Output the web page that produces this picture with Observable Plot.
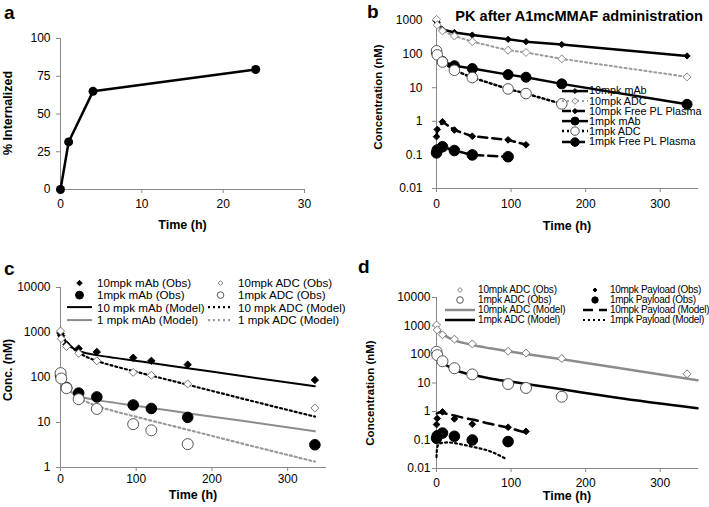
<!DOCTYPE html>
<html><head><meta charset="utf-8">
<script src="https://cdn.jsdelivr.net/npm/d3@7"></script>
<script src="https://cdn.jsdelivr.net/npm/@observablehq/plot@0.6"></script>
<style>
body{margin:0;background:#fff;font-family:"Liberation Sans",Arial,sans-serif;}
#root{position:relative;width:709px;height:507px;overflow:hidden;background:#fff}
.panel{position:absolute}
.letter{position:absolute;font-weight:bold;font-size:19px;line-height:1;color:#000}
.vt{position:absolute;font-weight:bold;white-space:nowrap;line-height:1;color:#000;transform:translate(-50%,-50%) rotate(-90deg)}
.lg{position:absolute;display:flex;align-items:center;white-space:nowrap;line-height:1;color:#000}
.lg svg{display:block;flex:none}
g[aria-label$="axis tick"]{stroke:#888}
</style></head><body><div id="root"></div>
<script>
// ---------------- DATA ----------------
// panel a
const aTime = [0, 1, 4, 24];
const aInternalized = [0, 31.5, 65, 79.5];
const aXTicks = [0, 10, 20, 30];
const aYTicks = [0, 25, 50, 75, 100];

// observed PK (nM)
const mab10Time = [0.083, 1, 8, 24, 48, 96, 120, 168, 336];
const mab10Conc = [950, 850, 540, 440, 370, 275, 235, 193, 88];
const adc10Time = [0.083, 1, 8, 24, 48, 96, 120, 168, 336];
const adc10Conc = [1080, 730, 490, 345, 235, 130, 112, 72, 21];
const pl10Time = [0.083, 1, 8, 24, 48, 96, 120];
const pl10Conc = [0.35, 0.57, 0.97, 0.55, 0.36, 0.28, 0.2];
const mab1Time = [0.083, 8, 24, 48, 96, 120, 168, 336];
const mab1Conc = [110, 60, 45, 37, 24.5, 20.5, 13, 3.2];
const adc1Time = [0.083, 1, 8, 24, 48, 96, 120, 168];
const adc1Conc = [125, 95, 58, 33, 20, 9.2, 6.7, 3.3];
const pl1Time = [0.083, 1, 8, 24, 48, 96];
const pl1Conc = [0.115, 0.14, 0.175, 0.135, 0.1, 0.088];

// panel c model curves
const cModelTime = [0, 2, 4, 8, 12, 16, 24, 36, 48, 72, 96, 120, 168, 240, 336];
const cMab10Model = [950, 831, 737, 600, 512, 454, 388, 341, 314, 273, 239, 210, 161, 108, 64];
const cMab1Model = [95, 83, 74, 60, 51, 45, 39, 34, 31.4, 27.3, 23.9, 21, 16.1, 10.9, 6.4];
const cAdc10Model = [902, 813, 737, 615, 523, 453, 359, 279, 233, 177, 139, 110, 69, 34, 13.5];
const cAdc1Model = [90, 81, 74, 61.5, 52, 45, 36, 28, 23.3, 17.7, 13.9, 11, 6.9, 3.4, 1.35];

// panel d model curves
const dModelTime = [0, 2, 4, 8, 12, 16, 24, 36, 48, 72, 96, 120, 168, 240, 350];
const dAdc10Model = [820, 740, 670, 540, 450, 390, 315, 255, 215, 165, 130, 105, 68, 35, 12.5];
const dAdc1Model = [80, 72, 65, 53, 44, 38, 29, 23, 19.5, 14.5, 11.5, 9.3, 6, 3.1, 1.3];
const dPl10ModelTime = [0.5, 4, 8, 16, 24, 36, 48, 72, 96, 120];
const dPl10Model = [0.85, 0.92, 0.9, 0.8, 0.72, 0.6, 0.52, 0.37, 0.27, 0.18];
const dPl1ModelTime = [0, 0.5, 1, 2, 4, 8, 16, 24, 36, 48, 72, 93];
const dPl1Model = [0.025, 0.045, 0.055, 0.065, 0.074, 0.08, 0.082, 0.078, 0.068, 0.058, 0.04, 0.022];

const pkXTicks = [0, 100, 200, 300];
const bYTicks = [0.01, 0.1, 1, 10, 100, 1000];
const cYTicks = [1, 10, 100, 1000, 10000];
const dYTicks = [0.01, 0.1, 1, 10, 100, 1000, 10000];

const bTitle = "PK after A1mcMMAF administration";
const namesB = ["10mpk mAb", "10mpk ADC", "10mpk Free PL Plasma", "1mpk mAb", "1mpk ADC", "1mpk Free PL Plasma"];
const namesCLeft = ["10mpk mAb (Obs)", "1mpk mAb (Obs)", "10 mpk mAb (Model)", "1 mpk mAb (Model)"];
const namesCRight = ["10mpk ADC (Obs)", "1mpk ADC (Obs)", "10 mpk ADC (Model)", "1 mpk ADC (Model)"];
const namesDLeft = ["10mpk ADC (Obs)", "1mpk ADC (Obs)", "10mpk ADC (Model)", "1mpk ADC (Model)"];
const namesDRight = ["10mpk Payload (Obs)", "1mpk Payload (Obs)", "10mpk Payload (Model)", "1mpk Payload (Model)"];

// ---------------- HELPERS ----------------
const rows = (t, v) => t.map((d, i) => ({t: d, v: v[i]}));
const FONT = "Liberation Sans, Arial, sans-serif";
const root = document.getElementById("root");
const symMap = {circle: d3.symbolCircle, diamond2: d3.symbolDiamond2};

function seriesMarks(data, st) {
  const m = [];
  if (st.line) m.push(Plot.line(data, {x: "t", y: "v", stroke: st.line, strokeWidth: st.lw, strokeDasharray: st.dash, curve: st.curve || "linear"}));
  if (st.symbol) m.push(Plot.dot(data, {x: "t", y: "v", symbol: st.symbol, r: st.r, fill: st.fill, stroke: st.stroke, strokeWidth: st.sw || 1}));
  return m;
}

function place(el, left, top) {
  el.classList.add("panel");
  el.style.left = left + "px"; el.style.top = top + "px";
  root.appendChild(el);
}

function letter(txt, left, top) {
  const d = document.createElement("div");
  d.className = "letter"; d.textContent = txt;
  d.style.left = left + "px"; d.style.top = top + "px";
  root.appendChild(d);
}

function vtitle(txt, cx, cy, size) {
  const d = document.createElement("div");
  d.className = "vt"; d.textContent = txt;
  d.style.left = cx + "px"; d.style.top = cy + "px"; d.style.fontSize = size + "px";
  root.appendChild(d);
}

function sample(st, w, h, rScale) {
  const ns = "http://www.w3.org/2000/svg";
  const svg = document.createElementNS(ns, "svg");
  svg.setAttribute("width", w); svg.setAttribute("height", h);
  svg.style.overflow = "visible";
  if (st.line) {
    const l = document.createElementNS(ns, "line");
    l.setAttribute("x1", 0); l.setAttribute("x2", w);
    l.setAttribute("y1", h / 2); l.setAttribute("y2", h / 2);
    l.setAttribute("stroke", st.line); l.setAttribute("stroke-width", st.lw);
    if (st.dash) l.setAttribute("stroke-dasharray", st.dash);
    svg.appendChild(l);
  }
  if (st.symbol) {
    const r = st.r * (rScale || 1);
    const p = document.createElementNS(ns, "path");
    p.setAttribute("d", d3.symbol(symMap[st.symbol], Math.PI * r * r)());
    p.setAttribute("transform", `translate(${w / 2},${h / 2})`);
    p.setAttribute("fill", st.fill); p.setAttribute("stroke", st.stroke);
    p.setAttribute("stroke-width", st.sw || 1);
    svg.appendChild(p);
  }
  return svg;
}

function legend(names, styles, cfg) {
  names.forEach((n, i) => {
    const d = document.createElement("div");
    d.className = "lg";
    d.style.fontSize = cfg.font + "px";
    if (cfg.ls) d.style.letterSpacing = cfg.ls + "px";
    d.style.left = cfg.left + "px";
    d.style.top = (cfg.top + cfg.rowH * i) + "px";
    d.style.height = cfg.rowH + "px";
    d.appendChild(sample(styles[n], cfg.sampleW, cfg.rowH, cfg.rScale));
    const s = document.createElement("span");
    s.textContent = n; s.style.marginLeft = cfg.gap + "px";
    d.appendChild(s);
    root.appendChild(d);
  });
}

function axes(xTicks, yTicks, xPad, yPad) {
  return [
    Plot.frame({anchor: "left", stroke: "#888"}),
    Plot.frame({anchor: "bottom", stroke: "#888"}),
    Plot.axisX({ticks: xTicks, tickSize: 4, tickPadding: xPad, fontSize: 12, label: null, tickFormat: d => String(d)}),
    Plot.axisY({ticks: yTicks, tickSize: 4, tickPadding: yPad, fontSize: 12, label: null, tickFormat: d => String(d)})
  ];
}
const xTitle = (txt, dy) => Plot.text([txt], {text: d => d, frameAnchor: "bottom", dy, fontWeight: "bold", fontSize: 12.5});
const baseStyle = {fontFamily: FONT, background: "transparent", overflow: "visible", color: "#000"};

// ---------------- STYLES ----------------
const sB = {
  "10mpk mAb": {line: "#000", lw: 2.5, symbol: "diamond2", r: 2.8, fill: "#000", stroke: "#000"},
  "10mpk ADC": {line: "#9a9a9a", lw: 2, dash: "2,3", symbol: "diamond2", r: 3.6, fill: "#fff", stroke: "#888"},
  "10mpk Free PL Plasma": {line: "#000", lw: 2.5, dash: "9,5", symbol: "diamond2", r: 3, fill: "#000", stroke: "#000"},
  "1mpk mAb": {line: "#000", lw: 2.5, symbol: "circle", r: 5, fill: "#000", stroke: "#000"},
  "1mpk ADC": {line: "#000", lw: 2.5, dash: "2,3", symbol: "circle", r: 5.3, fill: "#fff", stroke: "#555"},
  "1mpk Free PL Plasma": {line: "#000", lw: 2.5, dash: "9,5", symbol: "circle", r: 5.3, fill: "#000", stroke: "#000"}
};
const sC = {
  "10mpk mAb (Obs)": {symbol: "diamond2", r: 3.3, fill: "#000", stroke: "#000"},
  "1mpk mAb (Obs)": {symbol: "circle", r: 5.3, fill: "#000", stroke: "#000"},
  "10 mpk mAb (Model)": {line: "#000", lw: 2},
  "1 mpk mAb (Model)": {line: "#8c8c8c", lw: 2},
  "10mpk ADC (Obs)": {symbol: "diamond2", r: 3.6, fill: "#fff", stroke: "#777"},
  "1mpk ADC (Obs)": {symbol: "circle", r: 5.5, fill: "#fff", stroke: "#555"},
  "10 mpk ADC (Model)": {line: "#000", lw: 2.2, dash: "2,3"},
  "1 mpk ADC (Model)": {line: "#999", lw: 2.2, dash: "2,3"}
};
const sD = {
  "10mpk ADC (Obs)": {symbol: "diamond2", r: 3.6, fill: "#fff", stroke: "#777"},
  "1mpk ADC (Obs)": {symbol: "circle", r: 5.5, fill: "#fff", stroke: "#555"},
  "10mpk ADC (Model)": {line: "#8c8c8c", lw: 2.5},
  "1mpk ADC (Model)": {line: "#000", lw: 2.5},
  "10mpk Payload (Obs)": {symbol: "diamond2", r: 3, fill: "#000", stroke: "#000"},
  "1mpk Payload (Obs)": {symbol: "circle", r: 5.3, fill: "#000", stroke: "#000"},
  "10mpk Payload (Model)": {line: "#000", lw: 2.5, dash: "10,6"},
  "1mpk Payload (Model)": {line: "#000", lw: 2.2, dash: "2,3"}
};

// ---------------- PANEL A ----------------
const aData = rows(aTime, aInternalized);
place(Plot.plot({
  width: 350, height: 250, marginLeft: 60, marginRight: 46, marginTop: 38, marginBottom: 61,
  style: baseStyle,
  x: {domain: [0, 30]}, y: {domain: [0, 100]},
  marks: [
    ...axes(aXTicks, aYTicks, 6, 6),
    xTitle("Time (h)", 39),
    Plot.line(aData, {x: "t", y: "v", stroke: "#000", strokeWidth: 2.5}),
    Plot.dot(aData, {x: "t", y: "v", r: 4.5, fill: "#000"})
  ]
}), 0, 0);
letter("a", 4, 3);
vtitle("% Internalized", 8, 113, 12.5);

// ---------------- PANEL B ----------------
const seriesB = {
  "10mpk mAb": rows(mab10Time, mab10Conc),
  "10mpk ADC": rows(adc10Time, adc10Conc),
  "10mpk Free PL Plasma": rows(pl10Time, pl10Conc),
  "1mpk mAb": rows(mab1Time, mab1Conc),
  "1mpk ADC": rows(adc1Time, adc1Conc),
  "1mpk Free PL Plasma": rows(pl1Time, pl1Conc)
};
place(Plot.plot({
  width: 359, height: 250, marginLeft: 86, marginRight: 12, marginTop: 20, marginBottom: 62,
  style: baseStyle,
  x: {domain: [0, 350]}, y: {type: "log", domain: [0.01, 1000]},
  marks: [
    ...axes(pkXTicks, bYTicks, 7, 10),
    xTitle("Time (h)", 41),
    Plot.text([bTitle], {text: d => d, frameAnchor: "top", dx: 12, dy: -10, fontWeight: "bold", fontSize: 14.6}),
    ...namesB.flatMap(n => seriesMarks(seriesB[n], sB[n]))
  ]
}), 350, 0);
letter("b", 367, 2);
vtitle("Concentration (nM)", 379, 97, 11.5);
legend(namesB, sB, {left: 562, top: 85.6, rowH: 10.2, sampleW: 26, gap: 1, font: 10.8, rScale: 0.8});

// ---------------- PANEL C ----------------
const obsC = {
  "10mpk mAb (Obs)": seriesB["10mpk mAb"],
  "1mpk mAb (Obs)": seriesB["1mpk mAb"],
  "10mpk ADC (Obs)": seriesB["10mpk ADC"],
  "1mpk ADC (Obs)": seriesB["1mpk ADC"]
};
const modC = {
  "10 mpk mAb (Model)": rows(cModelTime, cMab10Model),
  "1 mpk mAb (Model)": rows(cModelTime, cMab1Model),
  "10 mpk ADC (Model)": rows(cModelTime, cAdc10Model),
  "1 mpk ADC (Model)": rows(cModelTime, cAdc1Model)
};
place(Plot.plot({
  width: 350, height: 257, marginLeft: 60, marginRight: 25, marginTop: 37, marginBottom: 40,
  style: baseStyle,
  x: {domain: [0, 350]}, y: {type: "log", domain: [1, 10000]},
  marks: [
    ...axes(pkXTicks, cYTicks, 3, 6),
    xTitle("Time (h)", 31),
    ...Object.keys(modC).flatMap(n => seriesMarks(modC[n], {...sC[n], curve: "monotone-x"})),
    ...["10mpk mAb (Obs)", "10mpk ADC (Obs)", "1mpk mAb (Obs)", "1mpk ADC (Obs)"].flatMap(n => seriesMarks(obsC[n], sC[n]))
  ]
}), 0, 250);
letter("c", 4, 259);
vtitle("Conc. (nM)", 8, 370, 12);
legend(namesCLeft, sC, {left: 67, top: 277, rowH: 12.2, sampleW: 25, gap: 5, font: 11.6, rScale: 0.75});
legend(namesCRight, sC, {left: 208, top: 277, rowH: 12.2, sampleW: 25, gap: 5, font: 11.6, rScale: 0.6});

// ---------------- PANEL D ----------------
const obsD = {
  "10mpk ADC (Obs)": seriesB["10mpk ADC"],
  "1mpk ADC (Obs)": seriesB["1mpk ADC"],
  "10mpk Payload (Obs)": seriesB["10mpk Free PL Plasma"],
  "1mpk Payload (Obs)": seriesB["1mpk Free PL Plasma"]
};
const modD = {
  "10mpk ADC (Model)": rows(dModelTime, dAdc10Model),
  "1mpk ADC (Model)": rows(dModelTime, dAdc1Model),
  "10mpk Payload (Model)": rows(dPl10ModelTime, dPl10Model),
  "1mpk Payload (Model)": rows(dPl1ModelTime, dPl1Model)
};
place(Plot.plot({
  width: 359, height: 257, marginLeft: 86, marginRight: 12, marginTop: 47, marginBottom: 39,
  style: baseStyle,
  x: {domain: [0, 350]}, y: {type: "log", domain: [0.01, 10000]},
  marks: [
    ...axes(pkXTicks, dYTicks, 6, 2),
    xTitle("Time (h)", 31),
    ...Object.keys(modD).flatMap(n => seriesMarks(modD[n], {...sD[n], curve: "monotone-x"})),
    ...Object.keys(obsD).flatMap(n => seriesMarks(obsD[n], sD[n]))
  ]
}), 350, 250);
letter("d", 358, 257);
vtitle("Concentration (nM)", 371, 393, 11.5);
legend(namesDLeft, sD, {left: 445, top: 285, rowH: 10, sampleW: 30, gap: 3, font: 10, ls: -0.15, rScale: 0.6});
legend(namesDRight, sD, {left: 583, top: 285, rowH: 10, sampleW: 24, gap: 3, font: 10, ls: -0.3, rScale: 0.6});
</script></body></html>
